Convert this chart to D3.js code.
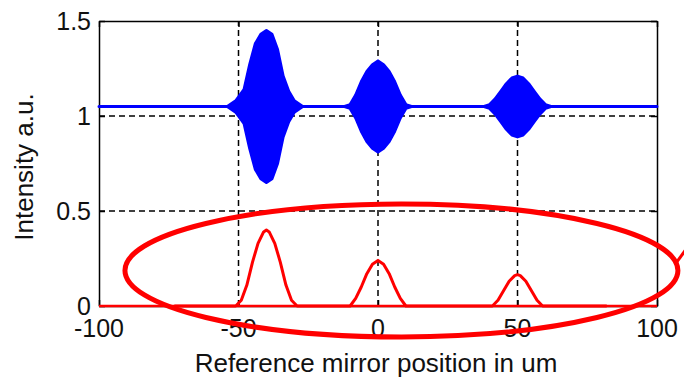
<!DOCTYPE html>
<html>
<head>
<meta charset="utf-8">
<script src="https://cdn.jsdelivr.net/npm/d3@7"></script>
<style>
body { margin: 0; background: #fff; }
text { font-family: "Liberation Sans", Arial, sans-serif; fill: #111; }
</style>
</head>
<body>
<div id="chart"></div>
<script>
// x ticks / y ticks
var xTicks = [-100, -50, 0, 50, 100];
var yTicks = [0, 0.5, 1, 1.5];
var xGrid = [-50, 0, 50];
var yGrid = [0.5, 1];

// blue interferogram, read as envelope (fringes are too dense to resolve)
var blueX  = [-100, -54, -51, -48, -46, -44, -42, -40, -38, -36, -34, -32, -30, -27,
              -12, -10, -8, -6, -4, -2, 0, 2, 4, 6, 8, 10, 12,
              38, 40, 42, 44, 46, 48, 50, 52, 54, 56, 58, 60, 62, 100];
var blueHi = [1.05, 1.05, 1.08, 1.14, 1.27, 1.38, 1.43, 1.45, 1.43, 1.35, 1.21, 1.13, 1.08, 1.05,
              1.05, 1.06, 1.11, 1.18, 1.235, 1.27, 1.29, 1.27, 1.235, 1.18, 1.11, 1.06, 1.05,
              1.05, 1.06, 1.09, 1.13, 1.17, 1.20, 1.21, 1.20, 1.17, 1.13, 1.09, 1.06, 1.05, 1.05];
var blueLo = [1.05, 1.05, 1.02, 0.96, 0.83, 0.72, 0.67, 0.65, 0.67, 0.75, 0.89, 0.97, 1.02, 1.05,
              1.05, 1.04, 0.99, 0.92, 0.865, 0.83, 0.81, 0.83, 0.865, 0.92, 0.99, 1.04, 1.05,
              1.05, 1.04, 1.01, 0.97, 0.93, 0.90, 0.89, 0.90, 0.93, 0.97, 1.01, 1.04, 1.05, 1.05];

// red envelope after demodulation
var redX = [-73, -51, -49, -47, -45, -43, -41, -40, -39, -37, -35, -33, -31, -29,
            -10, -8, -6, -4, -2, 0, 2, 4, 6, 8, 10,
            41, 43, 45, 47, 49, 50, 51, 53, 55, 57, 59, 82];
var redY = [0, 0, 0.03, 0.11, 0.23, 0.33, 0.39, 0.40, 0.39, 0.33, 0.23, 0.11, 0.03, 0,
            0, 0.04, 0.10, 0.17, 0.22, 0.24, 0.22, 0.17, 0.10, 0.04, 0,
            0, 0.03, 0.08, 0.13, 0.16, 0.165, 0.16, 0.13, 0.08, 0.03, 0, 0];
var redBaseX = [-100, 100];
var redBaseY = [0, 0];

// hand-drawn annotation ellipse, in data units
var ellipseCenter = [8.4, 0.187];
var ellipseRadius = [99.1, 0.35];
var arrowX = [107, 112];
var arrowY = [0.23, 0.33];

var width = 684, height = 379;
var margin = { top: 21, right: 27, bottom: 73, left: 99 };

var x = d3.scaleLinear().domain([-100, 100]).range([margin.left, width - margin.right]);
var y = d3.scaleLinear().domain([0, 1.5]).range([height - margin.bottom, margin.top]);

var svg = d3.select("#chart").append("svg")
	.attr("width", width).attr("height", height)
	.style("display", "block");

svg.append("rect").attr("width", width).attr("height", height).attr("fill", "#fff");

// grid
svg.selectAll(".gx").data(xGrid).enter().append("line")
	.attr("x1", function(d) { return x(d); }).attr("x2", function(d) { return x(d); })
	.attr("y1", y(0)).attr("y2", y(1.5))
	.attr("stroke", "#000").attr("stroke-width", 1.5).attr("stroke-dasharray", "6,4");
svg.selectAll(".gy").data(yGrid).enter().append("line")
	.attr("x1", x(-100)).attr("x2", x(100))
	.attr("y1", function(d) { return y(d); }).attr("y2", function(d) { return y(d); })
	.attr("stroke", "#000").attr("stroke-width", 1.5).attr("stroke-dasharray", "6,4");

// box with inward ticks
var tl = 6;
svg.append("g").attr("transform", "translate(0," + y(0) + ")")
	.call(d3.axisTop(x).tickValues(xTicks).tickSizeInner(tl).tickSizeOuter(0).tickFormat(""));
svg.append("g").attr("transform", "translate(0," + y(1.5) + ")")
	.call(d3.axisBottom(x).tickValues(xTicks).tickSizeInner(tl).tickSizeOuter(0).tickFormat(""));
svg.append("g").attr("transform", "translate(" + x(-100) + ",0)")
	.call(d3.axisRight(y).tickValues(yTicks).tickSizeInner(tl).tickSizeOuter(0).tickFormat(""));
svg.append("g").attr("transform", "translate(" + x(100) + ",0)")
	.call(d3.axisLeft(y).tickValues(yTicks).tickSizeInner(tl).tickSizeOuter(0).tickFormat(""));
svg.selectAll(".domain, .tick line").attr("stroke", "#000").attr("stroke-width", 1.5);

// tick labels
svg.selectAll(".xl").data(xTicks).enter().append("text")
	.attr("x", function(d) { return x(d); }).attr("y", 337)
	.attr("text-anchor", "middle").attr("font-size", 25)
	.text(function(d) { return d; });
svg.selectAll(".yl").data(yTicks).enter().append("text")
	.attr("x", 91).attr("y", function(d) { return y(d) + 9; })
	.attr("text-anchor", "end").attr("font-size", 25)
	.text(function(d) { return d; });

// axis titles
svg.append("text").attr("x", x(0) - 2).attr("y", 372)
	.attr("text-anchor", "middle").attr("font-size", 26)
	.text("Reference mirror position in um");
svg.append("text").attr("transform", "translate(33,167) rotate(-90)")
	.attr("text-anchor", "middle").attr("font-size", 26)
	.text("Intensity a.u.");

// blue trace
var blueData = blueX.map(function(d, i) { return { x: d, hi: blueHi[i], lo: blueLo[i] }; });
svg.append("path").datum(blueData)
	.attr("d", d3.area().x(function(d) { return x(d.x); })
		.y0(function(d) { return y(d.lo); }).y1(function(d) { return y(d.hi); }))
	.attr("fill", "#0000ff").attr("stroke", "#0000ff").attr("stroke-width", 3)
	.attr("stroke-linejoin", "round");

// red traces
var redLine = d3.line().x(function(d) { return x(d[0]); }).y(function(d) { return y(d[1]); });
svg.append("path").datum(d3.zip(redBaseX, redBaseY)).attr("d", redLine)
	.attr("fill", "none").attr("stroke", "#ff0000").attr("stroke-width", 2.5);
svg.append("path").datum(d3.zip(redX, redY)).attr("d", redLine)
	.attr("fill", "none").attr("stroke", "#ff0000").attr("stroke-width", 3)
	.attr("stroke-linejoin", "round");

// annotation
svg.append("ellipse")
	.attr("cx", x(ellipseCenter[0])).attr("cy", y(ellipseCenter[1]))
	.attr("rx", x(ellipseRadius[0]) - x(0)).attr("ry", y(0) - y(ellipseRadius[1]))
	.attr("fill", "none").attr("stroke", "#ff0000").attr("stroke-width", 5);
svg.append("path").datum(d3.zip(arrowX, arrowY)).attr("d", redLine)
	.attr("fill", "none").attr("stroke", "#ff0000").attr("stroke-width", 3);
</script>
</body>
</html>
